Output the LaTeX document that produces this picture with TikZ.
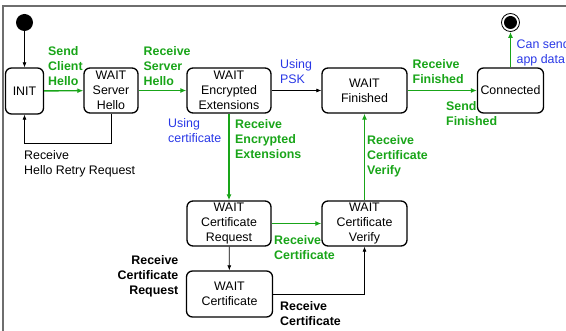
\documentclass[tikz,border=0pt]{standalone}
\usepackage{fontspec}
\setmainfont{Liberation Sans}
\usetikzlibrary{arrows.meta}
\definecolor{tgreen}{RGB}{25,165,25}
\definecolor{tblue}{RGB}{40,55,230}
\definecolor{framegray}{RGB}{110,110,110}
\begin{document}
\begin{tikzpicture}[x=1pt,y=-1pt,
  state/.style={draw, rounded corners=6pt, line width=1.3pt, align=center,
    font=\fontsize{12.4}{15}\selectfont, inner sep=0pt, minimum height=45pt},
  lbl/.style={align=left, inner sep=0pt, font=\fontsize{12.4}{15}\selectfont},
  glbl/.style={lbl, text=tgreen, font=\fontsize{12.4}{15}\selectfont\bfseries},
  blbl/.style={lbl, text=tblue},
  klbl/.style={lbl, font=\fontsize{12.4}{15}\selectfont\bfseries},
  garr/.style={draw=tgreen, line width=1.4pt, -{Latex[length=6pt,width=5pt]}},
  karr/.style={draw=black, line width=0.7pt, -{Latex[length=5pt,width=4pt]}}]
\useasboundingbox (0,0) rectangle (566,331);
\draw[framegray, line width=1.5pt] (3,331) -- (3,6) -- (566,6);

% states
\node[state, minimum width=38pt, minimum height=46pt] (init) at (24.5,91) {INIT};
\node[state, minimum width=54pt] (shello) at (111,90.5) {WAIT\\Server\\Hello};
\node[state, minimum width=84pt] (encext) at (229,90.5) {WAIT\\Encrypted\\Extensions};
\node[state, minimum width=85pt] (fin) at (364.5,90.5) {WAIT\\Finished};
\node[state, minimum width=66pt] (conn) at (510.5,90.5) {Connected};
\node[state, minimum width=84pt] (creq) at (229,223.5) {WAIT\\Certificate\\Request};
\node[state, minimum width=85pt] (cver) at (364.5,223.5) {WAIT\\Certificate\\Verify};
\node[state, minimum width=86pt, minimum height=46pt] (cert) at (229.5,294) {WAIT\\Certificate};

% start / end
\node[circle, fill=black, minimum size=17pt, inner sep=0pt] (start) at (24.5,22.5) {};
\node[circle, draw=black, line width=0.8pt, minimum size=18pt, inner sep=0pt] (end) at (510.5,22.5) {};
\node[circle, fill=black, minimum size=13pt, inner sep=0pt] (endin) at (end.center) {};

% connectors
\draw[karr] (start) -- (init);
\draw[garr] (init) -- (shello);
\draw[garr] (shello) -- (encext);
\coordinate (loopy) at (0,143.5);
\draw[karr] (shello.south) -- (shello.south |- loopy) -| (init.south);
\draw[karr] (encext) -- (fin);
\draw[garr] (fin) -- (conn);
\draw[garr] (conn) -- (end);
\draw[garr] (encext) -- (creq);
\draw[garr] (creq) -- (cver);
\draw[garr] (cver) -- (fin);
\draw[karr] (creq) -- (cert);
\draw[karr] (cert.east) -| (cver.south);

% labels
\node[glbl, anchor=north west] (l1) at (48,46.5) {Send\\Client\\Hello};
\node[glbl, anchor=north west] (l2) at (143.5,46) {Receive\\Server\\Hello};
\node[lbl, anchor=north west] (l3) at (24,150) {Receive\\Hello Retry Request};
\node[blbl, anchor=north west] (l4) at (168,118) {Using\\certificate};
\node[blbl, anchor=north west] (l5) at (280,59) {Using\\PSK};
\node[glbl, anchor=north west] (l6) at (235,119) {Receive\\Encrypted\\Extensions};
\node[glbl, anchor=north west] (l7) at (367,135) {Receive\\Certificate\\Verify};
\node[glbl, anchor=north west] (l8) at (412.5,59) {Receive\\Finished};
\node[glbl, anchor=north west] (l9) at (446,101.5) {Send\\Finished};
\node[blbl, anchor=north west] (l10) at (516.5,39) {Can send\\app data};
\node[glbl, anchor=north west] (l11) at (274,235) {Receive\\Certificate};
\node[klbl, align=right, anchor=north east] (l12) at (178.5,255) {Receive\\Certificate\\Request};
\node[klbl, anchor=north west] (l13) at (280,301) {Receive\\Certificate};
\end{tikzpicture}
\end{document}
